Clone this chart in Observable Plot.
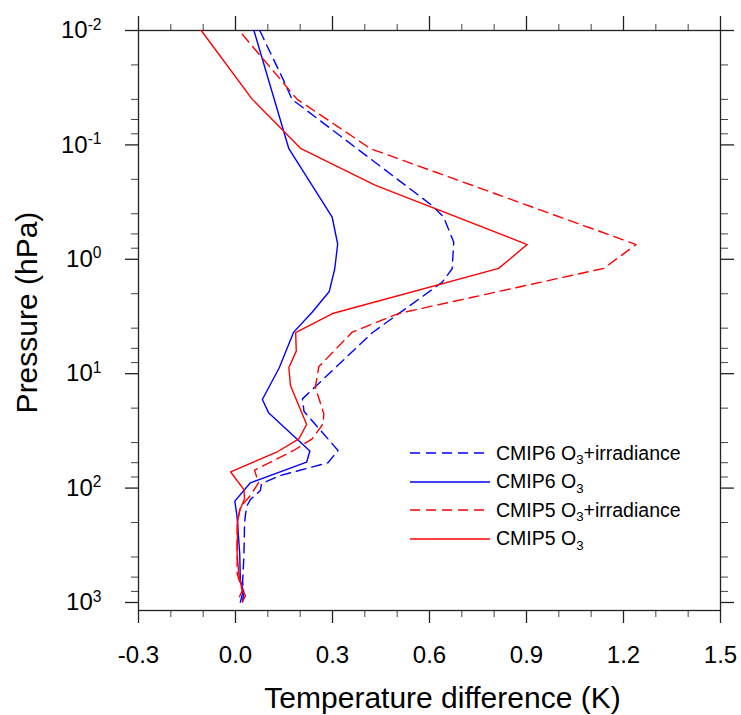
<!DOCTYPE html>
<html><head><meta charset="utf-8">
<script src="https://cdn.jsdelivr.net/npm/d3@7"></script>
<script src="https://cdn.jsdelivr.net/npm/@observablehq/plot@0.6"></script>
<style>
body{margin:0;background:#fff;font-family:"Liberation Sans",Arial,Helvetica,sans-serif;}
#wrap{position:relative;width:741px;height:715px;}
#legend{position:absolute;left:410px;top:439px;font-size:19.5px;color:#000;line-height:1;}
.row{display:flex;align-items:center;height:28.5px;white-space:nowrap;}
.row svg{margin-right:6px;display:block;}
.sub{font-size:0.68em;position:relative;top:0.35em;}
</style></head><body><div id="wrap"><div id="legend"></div></div>
<script>
// CMIP6 O3+irradiance (blue dashed)
const cmip6IrrK = [0.075, 0.149, 0.175, 0.608, 0.644, 0.675, 0.670, 0.639, 0.424, 0.207, 0.212, 0.317, 0.286, 0.139, 0.080, 0.077, 0.046, 0.036, 0.031, 0.028, 0.026, 0.022, 0.026, 0.021];
const cmip6IrrP = [0.01, 0.0274, 0.040, 0.339, 0.429, 0.711, 1.21, 1.59, 4.36, 16.6, 21.4, 46.9, 60.0, 77.6, 91.7, 105, 126, 142, 168, 205, 396, 662, 834, 994];
// CMIP6 O3 (blue solid)
const cmip6K = [0.057, 0.165, 0.299, 0.316, 0.307, 0.290, 0.237, 0.180, 0.135, 0.083, 0.103, 0.230, 0.220, 0.046, -0.002, 0.005, 0.013, 0.015, 0.024, 0.015];
const cmip6P = [0.01, 0.108, 0.429, 0.735, 1.21, 1.91, 2.90, 4.33, 8.92, 16.8, 22.1, 47.4, 59.4, 89.9, 130, 180, 373, 643, 786, 994];
// CMIP5 O3+irradiance (red dashed)
const cmip5IrrK = [0.021, 0.191, 0.418, 1.239, 1.139, 0.504, 0.361, 0.258, 0.247, 0.273, 0.271, 0.237, 0.180, 0.059, 0.071, 0.046, 0.015, 0.005, 0.005, 0.005, 0.021, 0.005];
const cmip5IrrP = [0.0108, 0.040, 0.108, 0.743, 1.20, 2.98, 4.33, 8.65, 13.1, 22.4, 27.4, 37.1, 46.9, 69.7, 90.2, 116, 147, 204, 373, 558, 786, 994];
// CMIP5 O3 (red solid)
const cmip5K = [-0.106, 0.052, 0.201, 0.433, 0.902, 0.814, 0.300, 0.186, 0.188, 0.165, 0.170, 0.220, 0.196, 0.131, -0.015, 0.026, 0.028, 0.013, 0.007, 0.005, 0.010, 0.021, 0.031, 0.021];
const cmip5P = [0.01, 0.040, 0.107, 0.226, 0.743, 1.20, 2.98, 4.37, 6.35, 8.82, 12.7, 27.8, 37.1, 47.9, 72.3, 103, 124, 157, 192, 373, 558, 786, 869, 994];

const seriesNames = ["CMIP6 O3+irradiance", "CMIP6 O3", "CMIP5 O3+irradiance", "CMIP5 O3"];
const xTicks = [-0.3, 0.0, 0.3, 0.6, 0.9, 1.2, 1.5];
const xMinorTicks = d3.range(-3, 16).map(i => i / 10);
const yTicks = [0.01, 0.1, 1, 10, 100, 1000];
const yMinorTicks = [-2, -1, 0, 1, 2].flatMap(e => [2, 4, 6, 8].map(m => m * Math.pow(10, e)));
const xTitle = "Temperature difference (K)";
const yTitle = "Pressure (hPa)";

const styles = [
  {color: "#0000ff", dash: "10,6"},
  {color: "#0000ff", dash: null},
  {color: "#ff0000", dash: "10,6"},
  {color: "#ff0000", dash: null}
];
const seriesData = [[cmip6IrrK, cmip6IrrP], [cmip6K, cmip6P], [cmip5IrrK, cmip5IrrP], [cmip5K, cmip5P]];
const rows = seriesData.flatMap(([ks, ps], s) => ks.map((k, i) => ({series: seriesNames[s], k, p: ps[i]})));

const axisColor = "#222";
const chart = Plot.plot({
  width: 741, height: 715,
  marginLeft: 138, marginRight: 21, marginTop: 30, marginBottom: 105,
  style: {fontFamily: "'Liberation Sans', Arial, Helvetica, sans-serif", background: "white", color: "#000"},
  x: {domain: [-0.3, 1.5], label: null},
  y: {type: "log", domain: [0.01, 1175], reverse: true, label: null},
  marks: [
    Plot.axisX({anchor: "bottom", ticks: xMinorTicks, tickSize: 7, text: null, stroke: "#444", label: null}),
    Plot.axisX({anchor: "top", ticks: xMinorTicks, tickSize: 7, text: null, stroke: "#444", label: null}),
    Plot.axisX({anchor: "bottom", ticks: xTicks, tickSize: 13, tickPadding: 22, fontSize: 24, stroke: axisColor, strokeWidth: 1.3, label: null, tickFormat: d => d.toFixed(1)}),
    Plot.axisX({anchor: "top", ticks: xTicks, tickSize: 15, text: null, stroke: axisColor, strokeWidth: 1.3, label: null}),
    Plot.axisY({anchor: "left", ticks: yMinorTicks, tickSize: 7, text: null, stroke: "#444", label: null}),
    Plot.axisY({anchor: "right", ticks: yMinorTicks, tickSize: 7, text: null, stroke: "#444", label: null}),
    Plot.axisY({anchor: "left", ticks: yTicks, tickSize: 13, tickPadding: 24, fontSize: 24, stroke: axisColor, strokeWidth: 1.3, label: null, tickFormat: d => "10^" + Math.round(Math.log10(d))}),
    Plot.axisY({anchor: "right", ticks: yTicks, tickSize: 13, text: null, stroke: axisColor, strokeWidth: 1.3, label: null}),
    Plot.frame({stroke: axisColor, strokeWidth: 1.3}),
    ...seriesNames.map((name, s) => Plot.line(rows.filter(r => r.series === name), {
      x: "k", y: "p", stroke: styles[s].color, strokeWidth: 1.4,
      strokeDasharray: styles[s].dash
    })),
    Plot.text([xTitle], {frameAnchor: "bottom", lineAnchor: "bottom", dy: 97, dx: 13, fontSize: 30, fill: "#000"}),
    Plot.text([yTitle], {frameAnchor: "left", textAnchor: "middle", lineAnchor: "middle", dx: -111, dy: -8, rotate: -90, fontSize: 30, fill: "#000"})
  ]
});
document.getElementById("wrap").prepend(chart);

// superscripts on log tick labels
d3.select(chart).selectAll("text").each(function() {
  const t = this.textContent;
  const m = /^10\^(-?\d+)$/.exec(t);
  if (m) {
    const sel = d3.select(this);
    sel.text(null);
    sel.append("tspan").text("10");
    sel.append("tspan").attr("dy", "-0.55em").attr("font-size", "0.65em").text(m[1]);
  }
});

// legend
const legend = document.getElementById("legend");
seriesNames.forEach((name, s) => {
  const row = document.createElement("div");
  row.className = "row";
  const dash = styles[s].dash ? `stroke-dasharray="${styles[s].dash}"` : "";
  const parts = name.split("O3");
  row.innerHTML = `<svg width="80" height="4"><line x1="0" y1="2" x2="80" y2="2" stroke="${styles[s].color}" stroke-width="1.4" ${dash}/></svg>` +
    `<span>${parts[0]}O<span class="sub">3</span>${parts[1]}</span>`;
  legend.appendChild(row);
});
</script></body></html>
